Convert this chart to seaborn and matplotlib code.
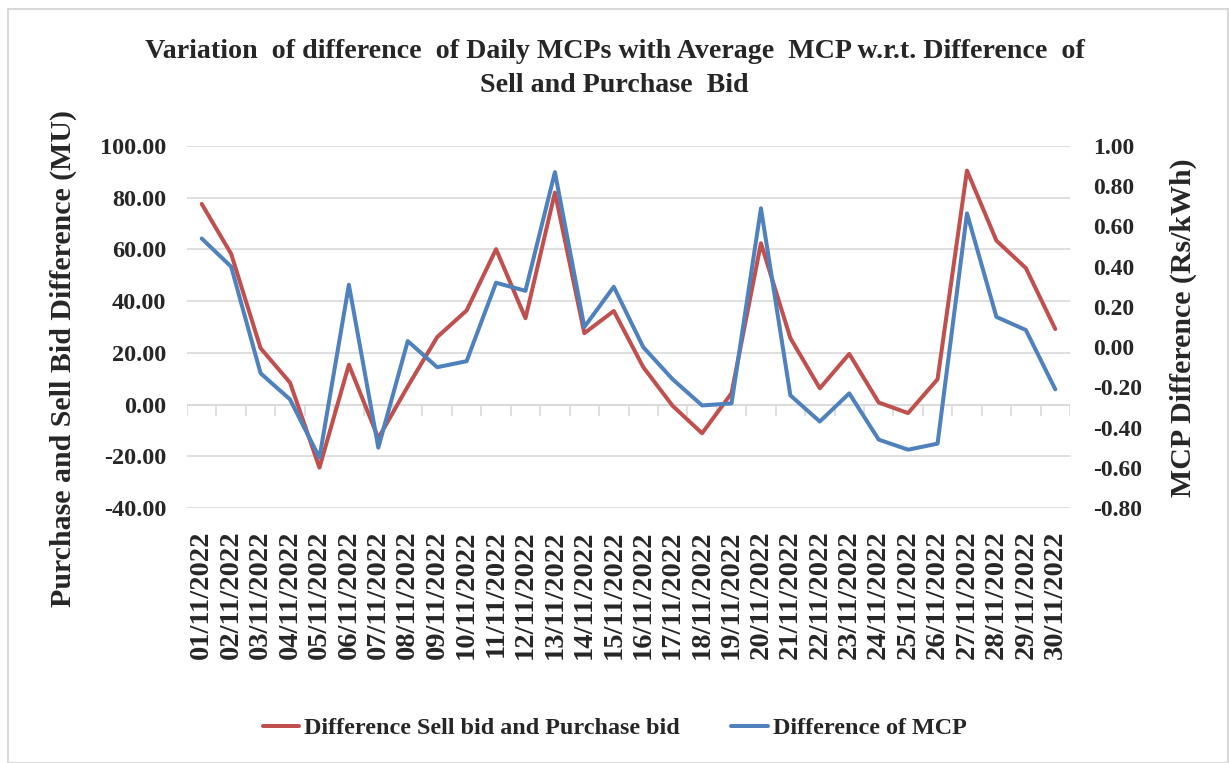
import numpy as np
import pandas as pd
import seaborn as sns
from matplotlib import pyplot as plt
from matplotlib.patches import Rectangle
from matplotlib.ticker import FuncFormatter, MultipleLocator

dates = [f"{d:02d}/11/2022" for d in range(1, 31)]

# MU, left axis
bid_diff = [77.6, 58.3, 21.8, 8.5, -24.4, 15.4, -13.0, 7.0, 26.1, 36.4,
            60.1, 33.4, 82.0, 27.6, 36.2, 14.5, -0.5, -11.1, 4.4, 62.4,
            25.7, 6.3, 19.6, 0.8, -3.3, 9.8, 90.5, 63.4, 52.8, 29.2]

# Rs/kWh, right axis
mcp_diff = [0.54, 0.40, -0.13, -0.26, -0.55, 0.31, -0.50, 0.03, -0.10, -0.07,
            0.32, 0.28, 0.87, 0.10, 0.30, 0.00, -0.16, -0.29, -0.28, 0.69,
            -0.24, -0.37, -0.23, -0.46, -0.51, -0.48, 0.665, 0.15, 0.085, -0.21]

red = "#C0504D"
blue = "#4F81BD"
grid = "#D9D9D9"

sns.set_style("white")
plt.rcParams["font.family"] = ["Liberation Serif", "DejaVu Serif"]
plt.rcParams["font.weight"] = "bold"

df = pd.DataFrame({"date": dates, "bid": bid_diff, "mcp": mcp_diff})
df["pos"] = np.arange(len(df))

fig = plt.figure(figsize=(12.29, 7.63), dpi=100)
ax = fig.add_axes([187 / 1229, 1 - 508 / 763, 883 / 1229, 362 / 763])
ax2 = ax.twinx()

sns.lineplot(data=df, x="pos", y="bid", color=red, lw=2.9, ax=ax,
             label="Difference Sell bid and Purchase bid", legend=False)
sns.lineplot(data=df, x="pos", y="mcp", color=blue, lw=2.9, ax=ax2,
             label="Difference of MCP", legend=False)

ax.set_xlim(-0.5, len(dates) - 0.5)
ax.set_ylim(-40, 100)
ax2.set_ylim(-0.8, 1.0)
ax.yaxis.set_major_locator(MultipleLocator(20))
ax2.yaxis.set_major_locator(MultipleLocator(0.2))
ax.yaxis.set_major_formatter(FuncFormatter(lambda v, p: f"{v:.2f}"))
ax2.yaxis.set_major_formatter(FuncFormatter(lambda v, p: f"{v:.2f}"))

ax.grid(axis="y", color=grid, lw=1.2)
ax.set_axisbelow(True)
for a in (ax, ax2):
    for s in a.spines.values():
        s.set_visible(False)
ax.tick_params(axis="y", length=0, labelsize=17.5, pad=15)
ax2.tick_params(axis="y", length=0, labelsize=17, pad=16.5)

# category axis crossing at zero, with ticks between categories
ax.axhline(0, color=grid, lw=1.2, zorder=1)
ax.vlines(np.arange(-0.5, len(dates), 1), -4.3, 0, color=grid, lw=1.2, zorder=1)

ax.set_xticks(df["pos"])
ax.set_xticklabels(dates, rotation=90, fontsize=20.5)
ax.tick_params(axis="x", length=0, pad=16)
ax.set_xlabel("")

ax.set_ylabel("Purchase and Sell Bid Difference (MU)", fontsize=21.5, fontweight="bold")
ax.yaxis.set_label_coords(-0.1246, 0.414)
ax2.set_ylabel("MCP Difference (Rs/kWh)", fontsize=21.5, fontweight="bold")
ax2.yaxis.set_label_coords(1.1133, 0.497)

fig.text(0.5, 1 - 51 / 763, "Variation  of difference  of Daily MCPs with Average  MCP w.r.t. Difference  of",
         ha="center", va="center", fontsize=20.2, fontweight="bold")
fig.text(0.5, 1 - 86 / 763, "Sell and Purchase  Bid",
         ha="center", va="center", fontsize=20.2, fontweight="bold")

h1, l1 = ax.get_legend_handles_labels()
h2, l2 = ax2.get_legend_handles_labels()
fig.legend(h1 + h2, l1 + l2, loc="center", bbox_to_anchor=(0.5, 1 - 728 / 763),
           ncol=2, frameon=False, fontsize=17.4, handlelength=1.5, handletextpad=0.2,
           columnspacing=2.15)

fig.patches.append(Rectangle((8 / 1229, 0), 1220 / 1229, 1 - 9 / 763,
                             transform=fig.transFigure, fill=False,
                             edgecolor=grid, lw=1.5))

plt.savefig("out.png", dpi=100)
